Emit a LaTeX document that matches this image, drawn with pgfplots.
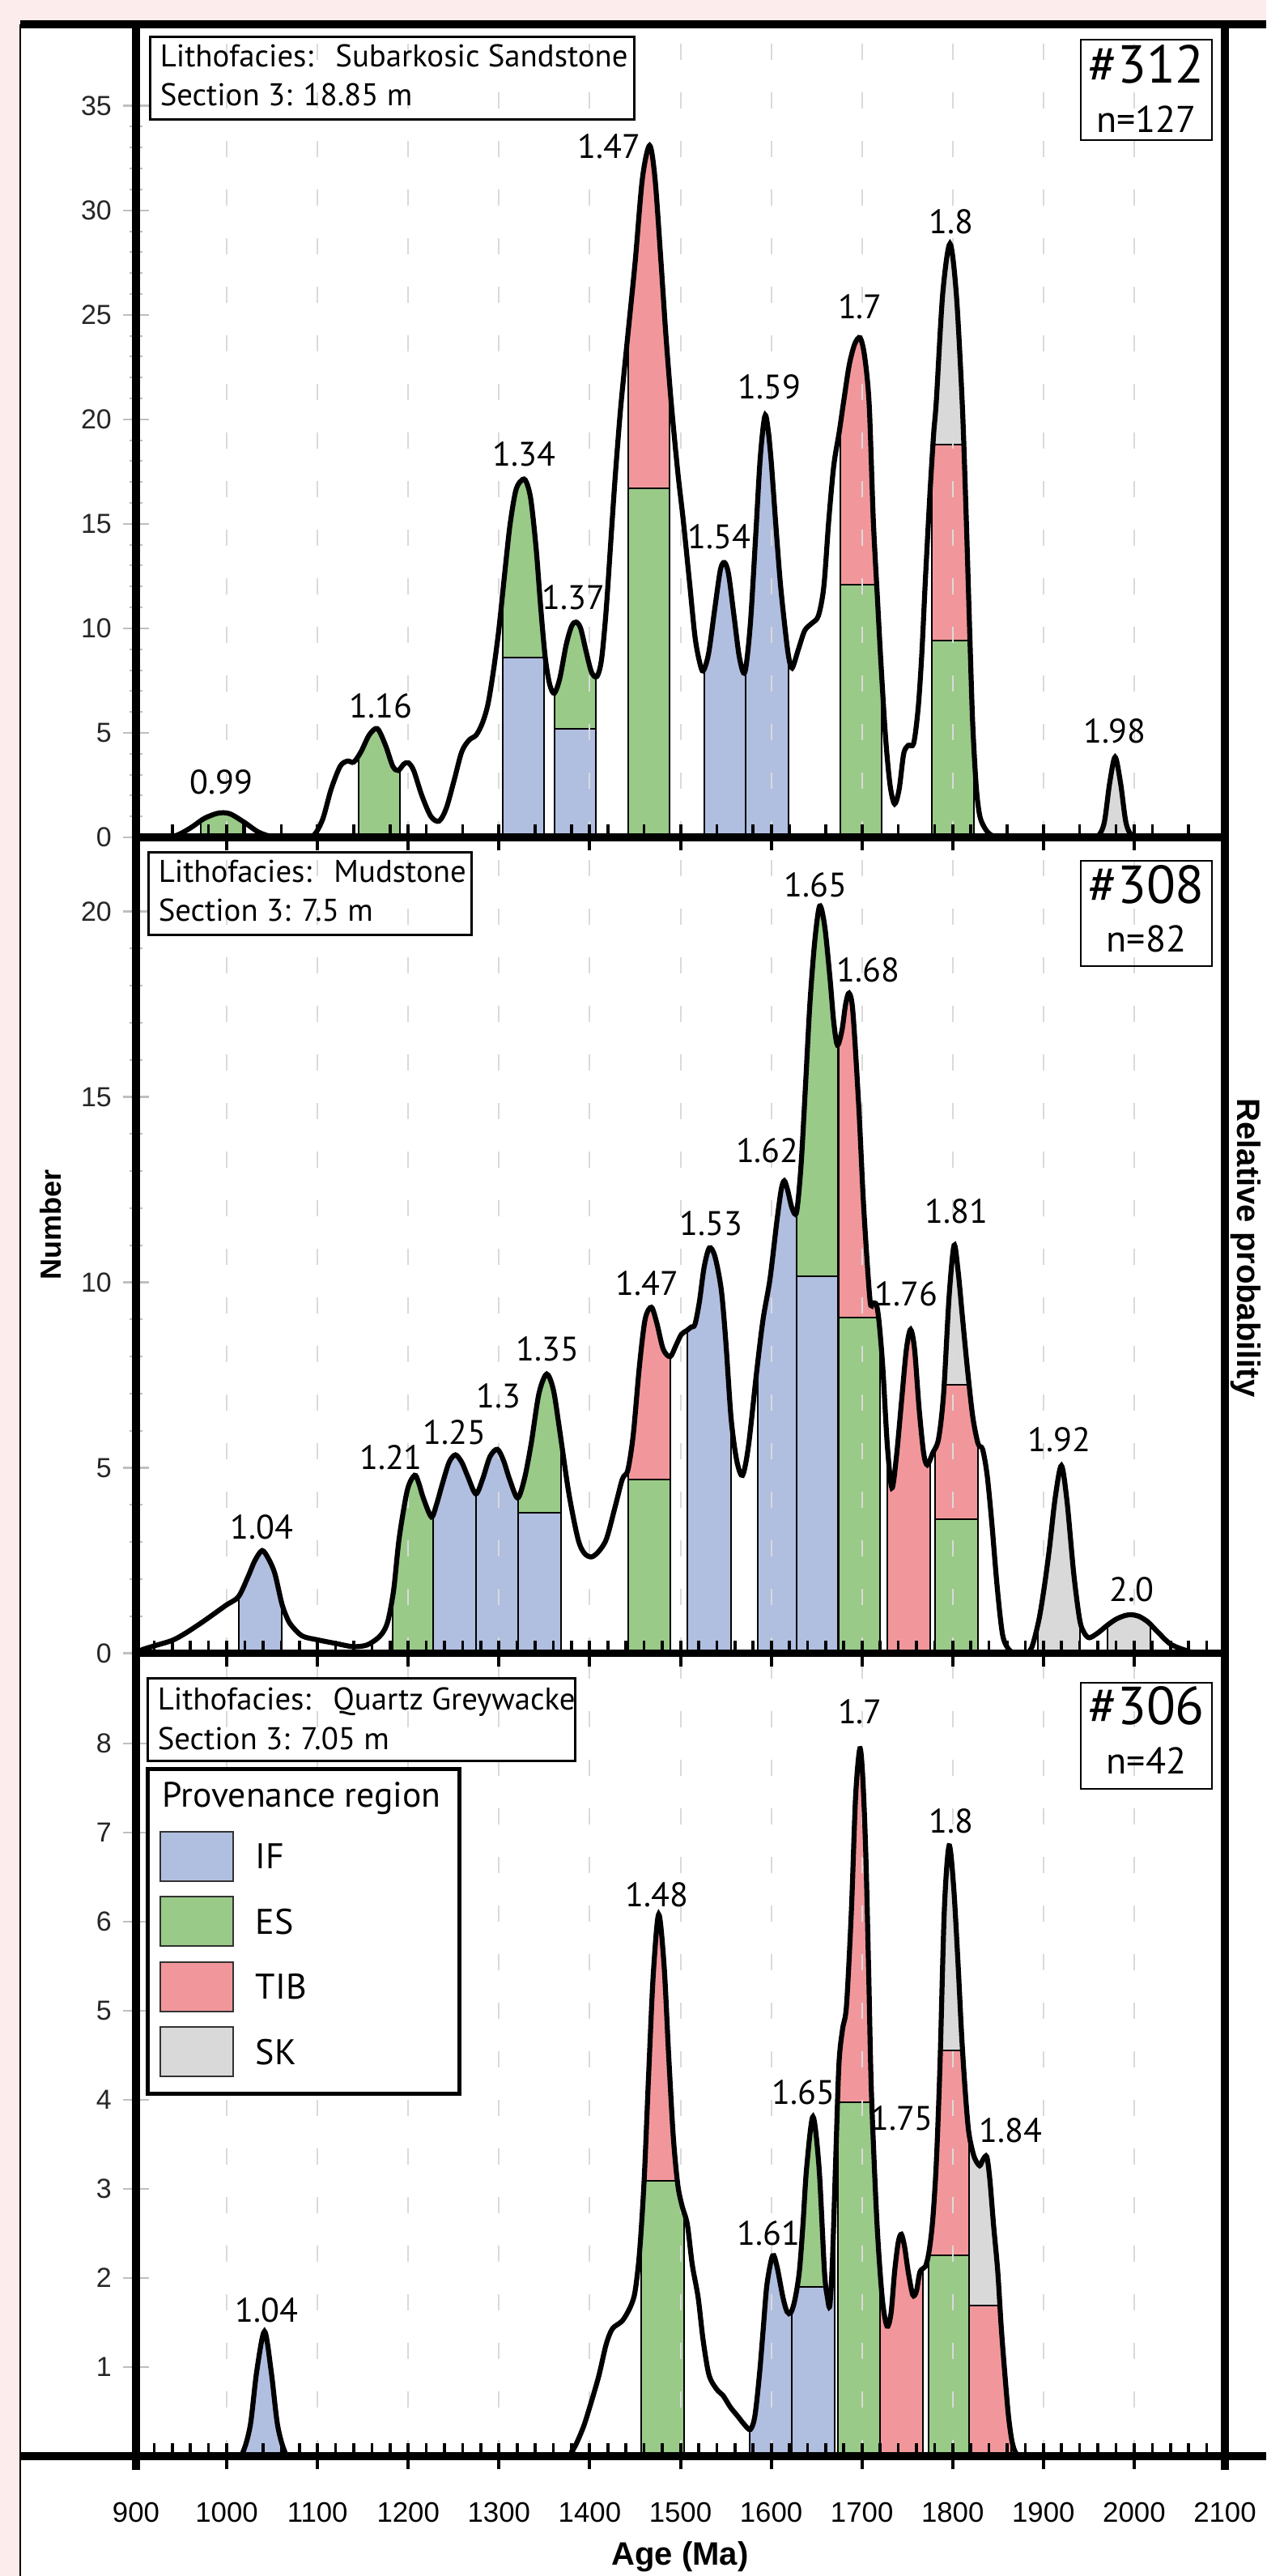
\documentclass[border=0pt]{standalone}
\usepackage{pgfplots}
\pgfplotsset{compat=1.18}
\usepackage{pgfplotstable}
\usepackage{fontspec}
\setmainfont{Liberation Sans}
\newfontfamily\ann{PT Sans}
\definecolor{cIF}{HTML}{B0BEE0}
\definecolor{cES}{HTML}{99CA88}
\definecolor{cTIB}{HTML}{F1979B}
\definecolor{cSK}{HTML}{D9D9D9}
\definecolor{bgpink}{HTML}{FCECEC}
\definecolor{gridgray}{HTML}{DADADA}

% ---------- probability density curves (age in Ma, value in "Number" units) ----------
\pgfplotstableread{
x y
900 0
930 0
945 0.1
960 0.45
975 0.9
988 1.13
996 1.18
1005 1.1
1020 0.7
1035 0.25
1050 0.03
1065 0
1088 0
1097 0.15
1106 0.9
1115 2.3
1125 3.4
1133 3.65
1140 3.6
1148 4.1
1157 4.9
1166 5.2
1175 4.4
1183 3.4
1189 3.2
1195 3.5
1200 3.57
1206 3.2
1215 2.0
1225 1.0
1234 0.78
1242 1.4
1251 2.8
1259 4.1
1267 4.65
1275 4.9
1282 5.5
1288 6.4
1294 8.0
1300 10.0
1306 12.5
1312 14.9
1318 16.5
1323 17.0
1329 17.1
1335 16.2
1341 13.8
1346 11.0
1351 8.6
1356 7.3
1361 6.9
1367 7.6
1374 9.2
1380 10.1
1385 10.3
1390 10.0
1396 8.9
1402 7.9
1408 7.7
1413 8.5
1418 10.8
1423 14.0
1428 17.2
1434 20.5
1441 23.6
1450 27.5
1458 31.5
1466 33.1
1472 31.5
1478.6 27.5
1484 24.0
1490 20.7
1497 17.5
1503 15.2
1510 12.2
1516 9.6
1521 8.4
1525 7.96
1531 8.8
1538 11.0
1544 12.8
1548.5 13.15
1553 12.6
1559 10.6
1565 8.6
1571 7.9
1577 10.2
1583 14.5
1588 18.2
1593.5 20.2
1599 18.5
1605 15.0
1610 12.2
1615 10.1
1619 8.7
1623 8.1
1630 9.0
1637 9.9
1645 10.25
1652 10.6
1658 12.0
1663.5 15.2
1669 17.8
1675 19.4
1680 20.9
1686 22.6
1692 23.6
1698 23.9
1703 23.0
1708 20.7
1712.5 15.2
1717 11.5
1721 8.3
1726 4.8
1731 2.5
1736 1.6
1741 2.3
1746 4.0
1751 4.4
1757 4.5
1762 6.2
1766 8.8
1770 12.4
1775 16.5
1779 19.3
1782 20.9
1789 26.0
1797 28.4
1804 26.0
1810.6 20.7
1815 15.2
1819 9.5
1822 5.5
1826 2.4
1830 1.0
1836 0.4
1842 0.12
1850 0.02
1858 0
1950 0
1960 0.05
1967 0.7
1973 2.6
1979 3.84
1985 2.6
1991 0.7
1998 0.05
2008 0
2100 0
}\pdpA

\pgfplotstableread{
x y
900 0
907 0.1
920 0.2
940 0.35
955 0.55
973 0.84
988 1.1
1000 1.31
1013 1.53
1023.5 2.07
1031 2.5
1039 2.77
1046 2.55
1053 2.15
1060.6 1.35
1066 0.98
1071 0.76
1083 0.47
1100.7 0.36
1121.5 0.26
1139 0.18
1154 0.22
1166 0.4
1173 0.6
1178 0.91
1184 1.72
1190 3.1
1199 4.4
1207 4.8
1211.5 4.6
1216.6 4.19
1225.5 3.68
1231 4.0
1237.4 4.55
1245 5.15
1252 5.35
1259 5.15
1265.6 4.77
1274.5 4.3
1282 4.7
1290 5.3
1298.2 5.5
1305 5.2
1311.6 4.7
1320.5 4.19
1328 4.7
1335.4 5.64
1344 7.0
1352.6 7.53
1360 7.1
1366.5 6.08
1376.9 4.33
1387 3.09
1394 2.7
1402 2.6
1410 2.75
1418.5 3.09
1428 3.95
1436 4.7
1442 4.94
1448 5.9
1454.6 7.7
1461 9.0
1468 9.33
1474 8.9
1481 8.2
1488.7 8.0
1495 8.3
1501 8.6
1506.8 8.7
1512 8.8
1516 8.87
1521 9.5
1526 10.4
1531.8 10.93
1538 10.7
1545 9.8
1550 8.4
1555.8 6.34
1562 5.2
1568.4 4.8
1575 5.6
1584 7.6
1591 9.0
1598.7 10.1
1606 11.6
1611 12.5
1614.4 12.74
1618 12.5
1623 12.0
1628 11.9
1633 13.2
1638 15.4
1642.6 17.5
1648 19.2
1653.4 20.15
1659 19.6
1664.8 18.2
1669 17.0
1673 16.4
1678 16.8
1682 17.5
1685.8 17.8
1690 17.3
1696.6 14.7
1702 12.0
1708.8 9.54
1712 9.45
1716 9.4
1719 8.9
1723 7.7
1728 5.6
1733 4.46
1738 5.3
1744 6.9
1749 8.2
1753.6 8.73
1758 8.2
1763 6.6
1768 5.4
1772 5.08
1778 5.4
1784.4 5.78
1790 7.0
1796 9.6
1801.5 11.0
1806 10.3
1811 9.0
1816 7.73
1822 6.4
1828 5.65
1833 5.5
1838 4.8
1843 3.55
1849 1.8
1855 0.5
1862 0.1
1870 0
1880 0
1887 0.15
1895 0.9
1901 1.8
1906.7 2.85
1913 4.2
1919.8 5.06
1926 4.1
1933.4 2.15
1940 0.9
1945 0.55
1950.6 0.42
1960 0.55
1970 0.75
1980 0.92
1990 1.02
1997 1.04
2005 1.0
2015 0.85
2025 0.6
2040 0.25
2058 0.07
2070 0
2100 0
}\pdpB

\pgfplotstableread{
x y
900 0
1010 0
1018 0.05
1026 0.35
1033 0.95
1041.6 1.40
1049 0.95
1056 0.35
1064 0.05
1072 0
1365 0
1380 0.05
1392 0.3
1400 0.55
1410 0.9
1418 1.25
1425 1.43
1436 1.52
1445 1.68
1450 1.85
1455 2.3
1460 3.1
1465 4.3
1470 5.4
1476 6.08
1482 5.5
1487 4.5
1492 3.6
1497 3.05
1502 2.8
1507.6 2.6
1513 2.15
1519.5 1.78
1525 1.3
1531.5 0.91
1540 0.75
1547 0.68
1555 0.55
1563 0.45
1570 0.36
1577 0.3
1582 0.45
1587 0.91
1591 1.4
1595 1.9
1600 2.2
1603 2.25
1607 2.1
1613 1.78
1617.5 1.62
1621.6 1.61
1626 1.75
1631 2.07
1635 2.6
1639 3.23
1646 3.81
1652.8 3.23
1658.7 2.07
1662 1.78
1664.6 1.69
1667.5 2.2
1671 3.3
1674.6 4.39
1678.6 4.79
1683 5.06
1688.4 6.13
1693 7.4
1697.7 7.94
1701 7.6
1704.4 6.71
1707.5 5.4
1710.4 4.1
1716.4 2.65
1722.3 1.78
1727.6 1.46
1732 1.6
1736 2.07
1740 2.4
1743.4 2.49
1747 2.35
1751 2.07
1756 1.81
1760 1.85
1764 2.07
1770 2.13
1774 2.3
1778 2.65
1782 3.3
1786 4.39
1790.8 6.13
1796 6.85
1801 6.4
1805.8 5.55
1810 4.7
1813.8 4.1
1817 3.7
1819.7 3.52
1824 3.35
1829.7 3.26
1833.5 3.33
1837.6 3.36
1841 3.1
1845 2.6
1849.7 2.07
1853.5 1.45
1857.6 0.91
1861.5 0.45
1865.5 0.16
1870 0.03
1878 0
2100 0
}\pdpC

% one coloured part of a histogram bar: colour, left, right, bottom, top
\newcommand{\seg}[5]{\addplot[fill=#1, draw=black, line width=0.5pt] coordinates {(#2,#4) (#2,#5) (#3,#5) (#3,#4)} --cycle;}
% white over everything above the curve, so that the bars end at the curve
\newcommand{\cover}[1]{\addplot[fill=white, draw=none, smooth] table[x=x,y=y]{#1} -- (axis cs:2100,100) -- (axis cs:900,100) -- cycle;}
\newcommand{\grid}{\pgfplotsinvokeforeach{1000,1100,...,2000}{\addplot[gridgray, line width=0.5pt, dash pattern=on 5pt off 10pt] coordinates {(##1,0) (##1,100)};}}

\pgfplotsset{
 panel/.style={
  scale only axis, width=336.25pt, xmin=900, xmax=2100, ymin=0,
  axis on top,
  axis line style={line width=2.4pt},
  tick pos=left,
  xtick={900,1000,...,2100}, xticklabels={},
  tick align=center,
  major tick length=8pt, minor tick length=4pt,
  every major x tick/.append style={black, line width=1pt},
  every minor x tick/.append style={black, line width=0.9pt, yshift=2pt},
  every major y tick/.append style={black!25, line width=0.6pt},
  every minor y tick/.append style={black!25, line width=0.5pt},
  yticklabel style={font=\fontsize{8.5}{10}\selectfont, text=black!85},
  /pgf/number format/assume math mode=true,
 },
}
\tikzset{pk/.style={font=\ann\fontsize{10.5}{12}\selectfont, anchor=base, inner sep=0pt}}

\begin{document}
\begin{tikzpicture}
\fill[bgpink] (0pt,0pt) rectangle (391pt,-795.25pt);
\fill[white] (6.25pt,-7.5pt) rectangle (391pt,-795.25pt);
\draw[line width=0.5pt] (6.25pt,-7.5pt) -- (6.25pt,-795.25pt);

% ================= bottom panel: #306 =================
\begin{axis}[panel, at={(42pt,-758.25pt)}, anchor=south west, height=247.85pt,
  ymax=9.01, ytick={1,...,8},
  minor xtick={900,920,...,2100},
  xticklabels={900,1000,1100,1200,1300,1400,1500,1600,1700,1800,1900,2000,2100},
  xticklabel style={font=\fontsize{8.7}{10}\selectfont, anchor=center, yshift=-13.5pt}]
\seg{cIF}{1019}{1062}{-1}{100}
\seg{cES}{1457}{1504}{-1}{3.09} \seg{cTIB}{1457}{1504}{3.09}{100}
\seg{cIF}{1576}{1623}{-1}{100}
\seg{cIF}{1623}{1670}{-1}{1.9} \seg{cES}{1623}{1670}{1.9}{100}
\seg{cES}{1673.8}{1720.3}{-1}{3.97} \seg{cTIB}{1673.8}{1720.3}{3.97}{100}
\seg{cTIB}{1720.3}{1767.3}{-1}{100}
\seg{cES}{1773.2}{1818.5}{-1}{2.25} \seg{cTIB}{1773.2}{1818.5}{2.25}{4.55} \seg{cSK}{1773.2}{1818.5}{4.55}{100}
\seg{cTIB}{1818.5}{1864.7}{-1}{1.69} \seg{cSK}{1818.5}{1864.7}{1.69}{100}
\cover{\pdpC}
\grid
\addplot[black, line width=1.55pt, smooth] table[x=x,y=y]{\pdpC};
\node[pk] at (axis cs:1044,1.5) {1.04};
\node[pk] at (axis cs:1474,6.17) {1.48};
\node[pk] at (axis cs:1597.5,2.37) {1.61};
\node[pk] at (axis cs:1635.7,3.95) {1.65};
\node[pk] at (axis cs:1698,8.22) {1.7};
\node[pk] at (axis cs:1744,3.66) {1.75};
\node[pk] at (axis cs:1798,6.99) {1.8};
\node[pk] at (axis cs:1864,3.52) {1.84};
\end{axis}

% ================= middle panel: #308 =================
\begin{axis}[panel, at={(42pt,-510.4pt)}, anchor=south west, height=251.9pt,
  ymax=22.0, ytick={0,5,...,20}, minor y tick num=4,
  minor xtick={900,920,...,2100}]
\seg{cIF}{1013}{1060.6}{-1}{100}
\seg{cES}{1182.4}{1227}{-1}{100}
\seg{cIF}{1227}{1274.5}{-1}{100}
\seg{cIF}{1274.5}{1321}{-1}{100}
\seg{cIF}{1321}{1368}{-1}{3.79} \seg{cES}{1321}{1368}{3.79}{100}
\seg{cES}{1442}{1489}{-1}{4.69} \seg{cTIB}{1442}{1489}{4.69}{100}
\seg{cIF}{1508}{1556}{-1}{100}
\seg{cIF}{1585}{1628}{-1}{100}
\seg{cIF}{1628}{1673.5}{-1}{10.17} \seg{cES}{1628}{1673.5}{10.17}{100}
\seg{cES}{1674.5}{1720}{-1}{9.05} \seg{cTIB}{1674.5}{1720}{9.05}{100}
\seg{cTIB}{1728}{1775}{-1}{100}
\seg{cES}{1781}{1828}{-1}{3.62} \seg{cTIB}{1781}{1828}{3.62}{7.24} \seg{cSK}{1781}{1828}{7.24}{100}
\seg{cSK}{1894}{1940.5}{-1}{100}
\seg{cSK}{1971}{2018}{-1}{100}
\cover{\pdpB}
\grid
\addplot[black, line width=1.55pt, smooth] table[x=x,y=y]{\pdpB};
\node[pk] at (axis cs:1038.4,3.08) {1.04};
\node[pk] at (axis cs:1181,4.97) {1.21};
\node[pk] at (axis cs:1251,5.64) {1.25};
\node[pk] at (axis cs:1299.7,6.62) {1.3};
\node[pk] at (axis cs:1353.5,7.88) {1.35};
\node[pk] at (axis cs:1463.4,9.65) {1.47};
\node[pk] at (axis cs:1534,11.28) {1.53};
\node[pk] at (axis cs:1595.8,13.23) {1.62};
\node[pk] at (axis cs:1648.8,20.4) {1.65};
\node[pk] at (axis cs:1707,18.1) {1.68};
\node[pk] at (axis cs:1749,9.37) {1.76};
\node[pk] at (axis cs:1804,11.6) {1.81};
\node[pk] at (axis cs:1917.4,5.43) {1.92};
\node[pk] at (axis cs:1997.6,1.39) {2.0};
\end{axis}

% ================= top panel: #312 =================
\begin{axis}[panel, at={(42pt,-258.5pt)}, anchor=south west, height=251pt,
  ymax=38.9, ytick={0,5,...,35}, minor y tick num=4,
  minor xtick={900,940,...,2100}]
\seg{cES}{971}{1018}{-1}{100}
\seg{cES}{1145}{1191}{-1}{100}
\seg{cIF}{1304}{1350}{-1}{8.6} \seg{cES}{1304}{1350}{8.6}{100}
\seg{cIF}{1361}{1407}{-1}{5.2} \seg{cES}{1361}{1407}{5.2}{100}
\seg{cES}{1442}{1488}{-1}{16.7} \seg{cTIB}{1442}{1488}{16.7}{100}
\seg{cIF}{1526}{1572}{-1}{100}
\seg{cIF}{1572}{1619}{-1}{100}
\seg{cES}{1676}{1722}{-1}{12.1} \seg{cTIB}{1676}{1722}{12.1}{100}
\seg{cES}{1777}{1823}{-1}{9.4} \seg{cTIB}{1777}{1823}{9.4}{18.8} \seg{cSK}{1777}{1823}{18.8}{100}
\seg{cSK}{1957}{2003}{-1}{100}
\cover{\pdpA}
\grid
\addplot[black, line width=1.55pt, smooth] table[x=x,y=y]{\pdpA};
\node[pk] at (axis cs:994,2.08) {0.99};
\node[pk] at (axis cs:1169.6,5.72) {1.16};
\node[pk] at (axis cs:1327.6,17.75) {1.34};
\node[pk] at (axis cs:1382,10.9) {1.37};
\node[pk] at (axis cs:1421.6,32.5) {1.47};
\node[pk] at (axis cs:1542.5,13.8) {1.54};
\node[pk] at (axis cs:1598,21.0) {1.59};
\node[pk] at (axis cs:1698,24.8) {1.7};
\node[pk] at (axis cs:1798,28.9) {1.8};
\node[pk] at (axis cs:1978.6,4.53) {1.98};
\end{axis}

% ---------- frame extensions ----------
\draw[line width=2.4pt] (6.25pt,-7.5pt) -- (391pt,-7.5pt);
\draw[line width=2.4pt] (6.25pt,-758.25pt) -- (391pt,-758.25pt);
\draw[line width=2.4pt] (378.25pt,-7.5pt) -- (378.25pt,-762.5pt);
\draw[line width=2.4pt] (42pt,-7.5pt) -- (42pt,-762.5pt);

% ---------- sample boxes ----------
\begin{scope}[every node/.style={inner sep=0pt}]
\draw[line width=0.75pt] (46.25pt,-11.25pt) rectangle (195.75pt,-36.75pt);
\node[anchor=base west, font=\ann\fontsize{9.7}{11}\selectfont] at (49.25pt,-20.5pt) {Lithofacies:\hspace{0.35em} Subarkosic Sandstone};
\node[anchor=base west, font=\ann\fontsize{9.7}{11}\selectfont] at (49.25pt,-32.5pt) {Section 3: 18.85 m};
\draw[line width=0.6pt] (333.75pt,-12.25pt) rectangle (374.25pt,-43.25pt);
\node[anchor=base, font=\ann\fontsize{16.5}{18}\selectfont] at (354pt,-25.5pt) {\#312};
\node[anchor=base, font=\ann\fontsize{11.5}{13}\selectfont] at (354pt,-40.75pt) {n=127};

\draw[line width=0.75pt] (45.75pt,-263pt) rectangle (145.5pt,-288.5pt);
\node[anchor=base west, font=\ann\fontsize{9.7}{11}\selectfont] at (48.75pt,-272.25pt) {Lithofacies:\hspace{0.35em} Mudstone};
\node[anchor=base west, font=\ann\fontsize{9.7}{11}\selectfont] at (48.75pt,-284.25pt) {Section 3: 7.5 m};
\draw[line width=0.6pt] (333.75pt,-265.75pt) rectangle (374.25pt,-298.25pt);
\node[anchor=base, font=\ann\fontsize{16.5}{18}\selectfont] at (354pt,-278.75pt) {\#308};
\node[anchor=base, font=\ann\fontsize{11.5}{13}\selectfont] at (354pt,-293.75pt) {n=82};

\draw[line width=0.75pt] (45.5pt,-518pt) rectangle (177.5pt,-543.5pt);
\node[anchor=base west, font=\ann\fontsize{9.7}{11}\selectfont] at (48.5pt,-527.75pt) {Lithofacies:\hspace{0.35em} Quartz Greywacke};
\node[anchor=base west, font=\ann\fontsize{9.7}{11}\selectfont] at (48.5pt,-540.1pt) {Section 3: 7.05 m};
\draw[line width=0.6pt] (333.75pt,-519.5pt) rectangle (374.25pt,-552.25pt);
\node[anchor=base, font=\ann\fontsize{16.5}{18}\selectfont] at (354pt,-532.3pt) {\#306};
\node[anchor=base, font=\ann\fontsize{11.5}{13}\selectfont] at (354pt,-547.5pt) {n=42};

% ---------- legend ----------
\draw[line width=1.25pt, fill=white] (45.5pt,-546pt) rectangle (141.75pt,-646.4pt);
\node[anchor=base west, font=\ann\fontsize{10.9}{13}\selectfont] at (50pt,-557.75pt) {Provenance region};
\foreach \c/\t [count=\i from 0] in {cIF/IF, cES/ES, cTIB/TIB, cSK/SK} {
  \draw[fill=\c, draw=black!80, line width=0.5pt] (49.5pt,{(-565.5-20.1*\i)*1pt}) rectangle (71.9pt,{(-580.75-20.1*\i)*1pt});
  \node[anchor=west, font=\ann\fontsize{11}{13}\selectfont] at (78.75pt,{(-573.1-20.1*\i)*1pt}) {\t};
}
\end{scope}

% ---------- axis titles ----------
\node[rotate=90, font=\bfseries\fontsize{9}{10}\selectfont] at (15.75pt,-378pt) {Number};
\node[rotate=-90, font=\bfseries\fontsize{10}{12}\selectfont] at (384.75pt,-385.25pt) {Relative probability};
\node[font=\bfseries\fontsize{10}{12}\selectfont] at (210pt,-789.25pt) {Age (Ma)};

\pgfresetboundingbox
\useasboundingbox (0pt,0pt) rectangle (391pt,-795.25pt);
\end{tikzpicture}
\end{document}
